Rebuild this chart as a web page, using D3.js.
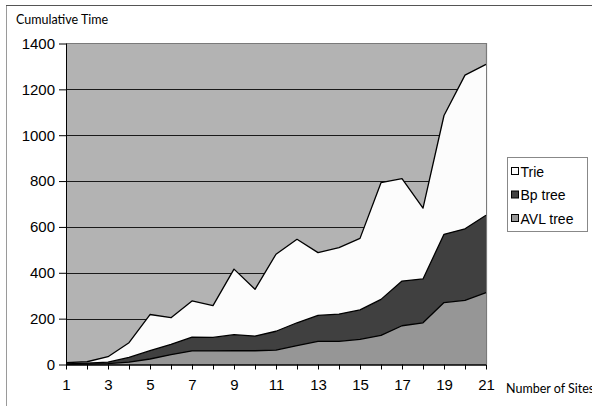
<!DOCTYPE html>
<html>
<head>
<meta charset="utf-8">
<script src="https://cdn.jsdelivr.net/npm/d3@7/dist/d3.min.js"></script>
<style>
  html, body { margin: 0; padding: 0; background: #fff; }
  svg { display: block; }
</style>
</head>
<body>
<svg id="chart" width="592" height="406"></svg>
<script>
// Number of sites on the x axis
const sites = d3.range(1, 22);
// Cumulative time for each structure
const trie = [8, 12, 34, 95, 218, 204, 277, 257, 416, 328, 481, 546, 488, 510, 550, 793, 811, 682, 1086, 1262, 1309];
const bpTree = [3, 6, 10, 31, 60, 88, 119, 118, 130, 124, 145, 182, 214, 220, 238, 284, 364, 373, 568, 592, 651];
const avlTree = [1, 2, 4, 10, 24, 43, 59, 59, 60, 60, 63, 82, 101, 101, 110, 127, 169, 182, 270, 280, 313];
const yTicks = [0, 200, 400, 600, 800, 1000, 1200, 1400];
const xTickLabels = [1, 3, 5, 7, 9, 11, 13, 15, 17, 19, 21];

const series = [
  { name: "Trie", values: trie, fill: "#fcfcfc" },
  { name: "Bp tree", values: bpTree, fill: "#404040" },
  { name: "AVL tree", values: avlTree, fill: "#969696" }
];

const svg = d3.select("#chart");
const plot = { left: 66, right: 486, top: 43.5, bottom: 364.5 };

const x = d3.scaleLinear().domain([1, 21]).range([plot.left, plot.right]);
const y = d3.scaleLinear().domain([0, 1400]).range([plot.bottom, plot.top]);

// Outer frame
svg.append("path")
  .attr("d", `M6.5,406 V5.5 H592`)
  .attr("fill", "none").attr("stroke", "#9a9a9a").attr("stroke-width", 1);
svg.append("line")
  .attr("x1", 6).attr("x2", 592).attr("y1", 5.5).attr("y2", 5.5)
  .attr("stroke", "#555").attr("stroke-width", 1);

// Plot background
svg.append("rect")
  .attr("x", plot.left).attr("y", plot.top)
  .attr("width", plot.right - plot.left).attr("height", plot.bottom - plot.top)
  .attr("fill", "#b3b3b3");

// Gridlines
svg.append("g")
  .selectAll("line").data(yTicks.slice(1, -1)).join("line")
  .attr("x1", plot.left).attr("x2", plot.right)
  .attr("y1", d => Math.round(y(d)) + 0.5).attr("y2", d => Math.round(y(d)) + 0.5)
  .attr("stroke", "#1a1a1a").attr("stroke-width", 1);

// Plot border (top and right)
svg.append("path")
  .attr("d", `M${plot.left},${plot.top} H${plot.right + 0.5} V${plot.bottom}`)
  .attr("fill", "none").attr("stroke", "#7a7a7a").attr("stroke-width", 1.2);

// Overlapping areas, each from zero to its value
const area = d3.area()
  .x((d, i) => x(sites[i]))
  .y0(y(0))
  .y1(d => y(d));
const line = d3.line()
  .x((d, i) => x(sites[i]))
  .y(d => y(d));

const areas = svg.append("g");
series.forEach(s => {
  areas.append("path")
    .attr("d", area(s.values))
    .attr("fill", s.fill);
  areas.append("path")
    .attr("d", line(s.values))
    .attr("fill", "none")
    .attr("stroke", "#000")
    .attr("stroke-width", 1.3)
    .attr("stroke-linejoin", "round");
});

// Y axis
const yAxis = d3.axisLeft(y).tickValues(yTicks).tickSize(7).tickPadding(4).tickFormat(d3.format("d"));
const gy = svg.append("g").attr("transform", `translate(${plot.left},0)`).call(yAxis);
gy.select(".domain").attr("stroke", "#000").attr("d", `M0.5,${plot.top}V${plot.bottom}`);
gy.selectAll(".tick line").attr("stroke", "#000");
gy.selectAll(".tick text")
  .attr("font-family", "Liberation Sans, Arial, sans-serif")
  .attr("font-size", 15)
  .attr("fill", "#000");

// X axis
const xAxis = d3.axisBottom(x).tickValues(sites).tickSize(5).tickPadding(10)
  .tickFormat(d => xTickLabels.includes(d) ? d : "");
const gx = svg.append("g").attr("transform", `translate(0,${plot.bottom})`).call(xAxis);
gx.select(".domain").attr("stroke", "#000").attr("stroke-width", 1.5)
  .attr("d", `M${plot.left},0.5H${plot.right}`);
gx.selectAll(".tick line").attr("stroke", "#000");
gx.selectAll(".tick text")
  .attr("font-family", "Liberation Sans, Arial, sans-serif")
  .attr("font-size", 15)
  .attr("fill", "#000");

// Axis titles
svg.append("text")
  .attr("x", 16).attr("y", 24)
  .attr("font-family", "Lato, 'Open Sans', sans-serif")
  .attr("font-size", 12.5)
  .attr("fill", "#000")
  .text("Cumulative Time");
svg.append("text")
  .attr("x", 506).attr("y", 393)
  .attr("font-family", "Lato, 'Open Sans', sans-serif")
  .attr("font-size", 12.5)
  .attr("fill", "#000")
  .text("Number of Sites");

// Legend
const legend = svg.append("g").attr("transform", "translate(507.5,157.5)");
legend.append("rect")
  .attr("width", 80).attr("height", 74)
  .attr("fill", "#fff").attr("stroke", "#888");
const items = legend.selectAll("g").data(series).join("g")
  .attr("transform", (d, i) => `translate(0,${14 + i * 23.5})`);
items.append("rect")
  .attr("x", 4).attr("y", -4).attr("width", 7).attr("height", 7)
  .attr("fill", d => d.fill).attr("stroke", "#000");
items.append("text")
  .attr("x", 13).attr("y", 5)
  .attr("font-family", "Liberation Sans, Arial, sans-serif")
  .attr("font-size", 14)
  .attr("fill", "#000")
  .text(d => d.name);
</script>
</body>
</html>
